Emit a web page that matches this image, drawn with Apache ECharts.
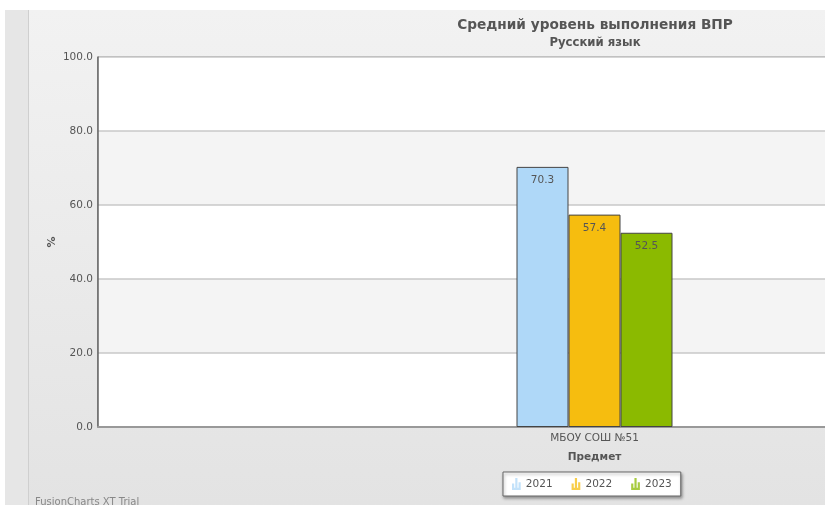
<!DOCTYPE html>
<html>
<head>
<meta charset="utf-8">
<script src="https://cdn.jsdelivr.net/npm/echarts@6/dist/echarts.min.js"></script>
<style>
  html, body { margin: 0; padding: 0; background: #fff; }
  #chart { width: 825px; height: 505px; }
</style>
</head>
<body>
<div id="chart"></div>
<script>
// данные диаграммы
var categories = ['МБОУ СОШ №51'];
var years = ['2021', '2022', '2023'];
var values2021 = [70.3];
var values2022 = [57.4];
var values2023 = [52.5];
var yearColors = ['#afd8f8', '#f6bd0f', '#8bba00'];

var font = 'DejaVu Sans';
var barIcon = 'path://M0,6H2V12H0ZM3,1H5V12H3ZM6,5H8V12H6ZM0,10H8V12H0Z';

var chart = echarts.init(document.getElementById('chart'));

function barSeries(name, data, color) {
    return {
        name: name,
        type: 'bar',
        data: data,
        barWidth: 52,
        barGap: '0%',
        itemStyle: { color: color, borderColor: '#444', borderWidth: 1 },
        label: {
            show: true,
            position: 'insideTop',
            distance: 8,
            color: '#555',
            fontFamily: font,
            fontSize: 10.5,
            formatter: function (p) { return p.value.toFixed(1); }
        },
        emphasis: { disabled: true }
    };
}

var option = {
    backgroundColor: '#fff',
    animation: false,
    graphic: [
        // фон
        {
            type: 'rect', z: -10, silent: true,
            shape: { x: 5, y: 10, width: 820, height: 495 },
            style: {
                fill: new echarts.graphic.LinearGradient(0, 0, 0, 1, [
                    { offset: 0, color: '#f2f2f2' },
                    { offset: 1, color: '#e3e3e3' }
                ])
            }
        },
        {
            type: 'rect', z: -9, silent: true,
            shape: { x: 5, y: 10, width: 23, height: 495 },
            style: { fill: '#e6e6e6' }
        },
        {
            type: 'line', z: -9, silent: true,
            shape: { x1: 28.5, y1: 10, x2: 28.5, y2: 505 },
            style: { stroke: '#cfcfcf', lineWidth: 1 }
        },
        {
            type: 'text', silent: true,
            left: 35, top: 497,
            style: { text: 'FusionCharts XT Trial', fill: '#888', font: '10px "DejaVu Sans"' }
        }
    ],
    title: {
        text: 'Средний уровень выполнения ВПР',
        subtext: 'Русский язык',
        left: 590,
        top: 13,
        textAlign: 'center',
        itemGap: 5,
        textStyle: { color: '#555', fontFamily: font, fontSize: 13.7, fontWeight: 'bold' },
        subtextStyle: { color: '#555', fontFamily: font, fontSize: 11.7, fontWeight: 'bold' }
    },
    legend: {
        data: years,
        left: 503,
        top: 472,
        width: 183,
        height: 25,
        padding: [6, 9, 6, 9],
        itemGap: 19,
        itemWidth: 9,
        itemHeight: 12,
        icon: barIcon,
        itemStyle: { borderWidth: 0, opacity: 0.75 },
        backgroundColor: '#fff',
        borderColor: '#666',
        borderWidth: 1,
        shadowColor: 'rgba(0,0,0,0.35)',
        shadowBlur: 3,
        shadowOffsetX: 1,
        shadowOffsetY: 2,
        textStyle: { color: '#555', fontFamily: font, fontSize: 10.5 }
    },
    grid: {
        left: 98,
        top: 57,
        height: 370,
        width: 993,
        outerBoundsMode: 'none',
        show: true,
        backgroundColor: 'transparent',
        borderColor: '#666',
        borderWidth: 1
    },
    xAxis: {
        type: 'category',
        data: categories,
        name: 'Предмет',
        nameLocation: 'middle',
        nameGap: 25,
        nameTextStyle: { color: '#555', fontFamily: font, fontSize: 10.5, fontWeight: 'bold' },
        axisLine: { lineStyle: { color: '#999', width: 2 } },
        axisTick: { show: false },
        axisLabel: { color: '#555', fontFamily: font, fontSize: 10.5, margin: 6 },
        splitLine: { show: false }
    },
    yAxis: {
        type: 'value',
        min: 0,
        max: 100,
        interval: 20,
        name: '%',
        nameLocation: 'middle',
        nameRotate: 90,
        nameGap: 40,
        nameMoveOverlap: false,
        nameTextStyle: { color: '#555', fontFamily: font, fontSize: 11, fontWeight: 'bold' },
        axisLine: { show: true, lineStyle: { color: '#666', width: 1.5 } },
        axisTick: { show: false },
        axisLabel: {
            color: '#555', fontFamily: font, fontSize: 10.5, margin: 5,
            formatter: function (v) { return v.toFixed(1); }
        },
        splitLine: { lineStyle: { color: '#c8c8c8', width: 1.5 } },
        splitArea: { show: true, areaStyle: { color: ['#ffffff', '#f4f4f4'] } }
    },
    series: [
        barSeries(years[0], values2021, yearColors[0]),
        barSeries(years[1], values2022, yearColors[1]),
        barSeries(years[2], values2023, yearColors[2])
    ]
};

chart.setOption(option);
</script>
</body>
</html>
